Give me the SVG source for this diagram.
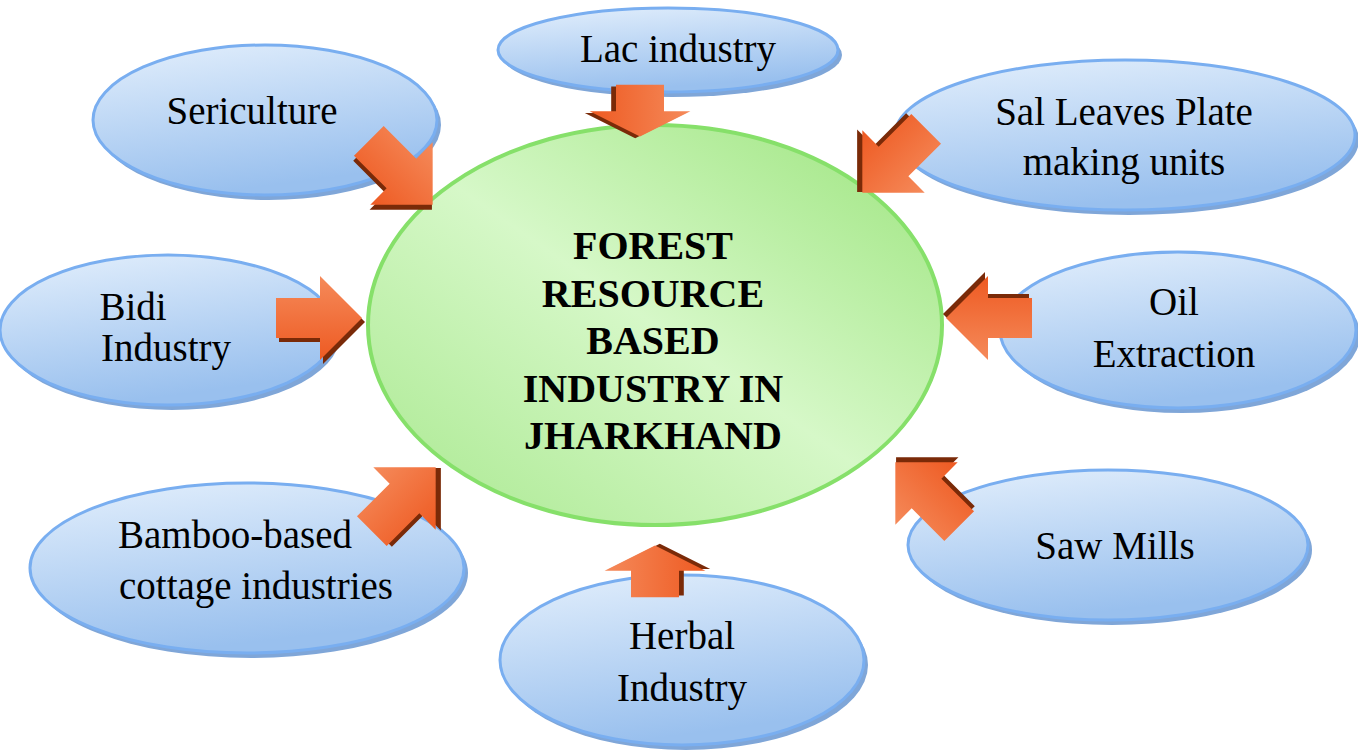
<svg xmlns="http://www.w3.org/2000/svg" width="1358" height="752" viewBox="0 0 1358 752">
<defs>
<linearGradient id="blue" x1="0" y1="0" x2="0.3" y2="1"><stop offset="0" stop-color="#e3effc"/><stop offset="1" stop-color="#99c0ee"/></linearGradient>
<linearGradient id="green" x1="0" y1="1" x2="1" y2="0"><stop offset="0" stop-color="#a8e88e"/><stop offset="0.5" stop-color="#d6f8c8"/><stop offset="1" stop-color="#9be47c"/></linearGradient>
<linearGradient id="org" x1="0" y1="0" x2="0" y2="1"><stop offset="0" stop-color="#f58a5a"/><stop offset="1" stop-color="#ee5a22"/></linearGradient>
<path id="arr" d="M-42,-20 L2,-20 L2,-42 L44,0 L2,42 L2,20 L-42,20 Z"/>
<g id="A"><use href="#arr" fill="#7a2a08" transform="translate(3,4)"/><use href="#arr" fill="url(#org)"/></g>
</defs>
<style>
.n ellipse.s{fill:#7fa6d8}
.n ellipse.b{fill:url(#blue);stroke:#79aef0;stroke-width:3}
text{font-family:"Liberation Serif","Times New Roman",serif;font-size:39px;fill:#000;text-anchor:middle}
.c{font-weight:bold;font-size:40px}
</style>
<g id="nodes">
<g id="lac" class="n"><ellipse class="s" cx="672" cy="55" rx="170" ry="42"/><ellipse class="b" cx="668" cy="50" rx="170" ry="42"/><text x="678" y="62">Lac industry</text></g>
<g id="seri" class="n"><ellipse class="s" cx="269" cy="125" rx="172" ry="75"/><ellipse class="b" cx="265" cy="120" rx="172" ry="75"/><text x="252" y="124">Sericulture</text></g>
<g id="sal" class="n"><ellipse class="s" cx="1129" cy="140" rx="230" ry="75"/><ellipse class="b" cx="1125" cy="135" rx="230" ry="75"/><text x="1124" y="125">Sal Leaves Plate</text><text x="1124" y="175">making units</text></g>
<g id="bidi" class="n"><ellipse class="s" cx="172" cy="335" rx="168" ry="75"/><ellipse class="b" cx="168" cy="330" rx="168" ry="75"/><text x="133" y="320">Bidi</text><text x="166" y="361">Industry</text></g>
<g id="oil" class="n"><ellipse class="s" cx="1182" cy="335" rx="178" ry="78"/><ellipse class="b" cx="1178" cy="330" rx="178" ry="78"/><text x="1174" y="315">Oil</text><text x="1174" y="367">Extraction</text></g>
<g id="bamboo" class="n"><ellipse class="s" cx="251" cy="573" rx="217" ry="85"/><ellipse class="b" cx="247" cy="568" rx="217" ry="85"/><text x="235" y="548">Bamboo-based</text><text x="256" y="599">cottage industries</text></g>
<g id="saw" class="n"><ellipse class="s" cx="1112" cy="550" rx="200" ry="75"/><ellipse class="b" cx="1108" cy="545" rx="200" ry="75"/><text x="1115" y="559">Saw Mills</text></g>
<g id="herbal" class="n"><ellipse class="s" cx="686" cy="665" rx="182" ry="85"/><ellipse class="b" cx="682" cy="660" rx="182" ry="85"/><text x="682" y="649">Herbal</text><text x="682" y="701">Industry</text></g>
<g id="center" class="n"><ellipse cx="655" cy="325" rx="287" ry="200" fill="url(#green)" stroke="#86e06a" stroke-width="4"/>
<text class="c" x="653" y="259">FOREST</text><text class="c" x="653" y="307">RESOURCE</text><text class="c" x="653" y="354">BASED</text><text class="c" x="653" y="402">INDUSTRY IN</text><text class="c" x="653" y="449">JHARKHAND</text></g>
</g>
<g id="connectors">
<use href="#A" transform="translate(640,110) rotate(90) scale(0.6,1.2)"/>
<use href="#A" transform="translate(400,172) rotate(45) scale(1.05)"/>
<use href="#A" transform="translate(895,160) rotate(135) scale(1.05)"/>
<use href="#A" transform="translate(318,318)"/>
<use href="#A" transform="translate(990,318) rotate(180)"/>
<use href="#A" transform="translate(403,500) rotate(-45) scale(1.05)"/>
<use href="#A" transform="translate(928,495) rotate(-135) scale(1.05)"/>
<use href="#A" transform="translate(655,572) rotate(-90) scale(0.6,1.2)"/>
</g>
</svg>
